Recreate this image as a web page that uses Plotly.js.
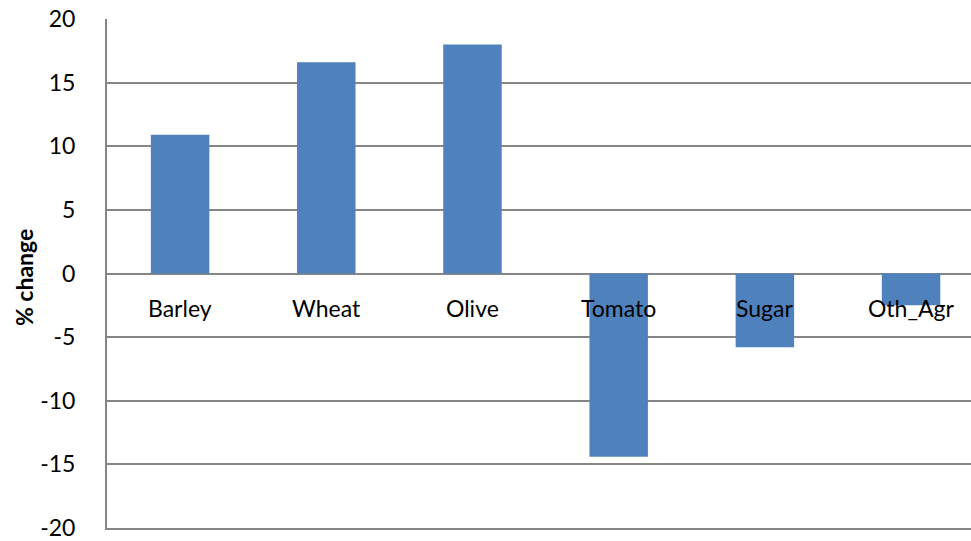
<!DOCTYPE html>
<html>
<head>
<meta charset="utf-8">
<script src="https://cdn.plot.ly/plotly-3.0.1.min.js"></script>
<style>
  html, body { margin: 0; padding: 0; background: #ffffff; overflow: hidden; }
  #chart { width: 971px; height: 541px; }
</style>
</head>
<body>
<div id="chart"></div>
<script>
// Percentage change by agricultural sector
const sectors = ["Barley", "Wheat", "Olive", "Tomato", "Sugar", "Oth_Agr"];
const pctChange = [10.9, 16.6, 18.0, -14.4, -5.8, -2.5];

const yTickVals = [20, 15, 10, 5, 0, -5, -10, -15, -20];
const yTickText = ["20", "15", "10", "5", "0", "-5", "-10", "-15", "-20"];

const axisGrey = "#868686";
const barBlue = "#4F81BD";
const font = "Lato, 'Open Sans', sans-serif";

const trace = {
  type: "bar",
  x: sectors,
  y: pctChange,
  width: 0.4,
  marker: { color: barBlue, line: { width: 0 } },
  hoverinfo: "x+y"
};

// Category names sit just under the zero line rather than at the axis bottom
const sectorLabels = sectors.map(s => ({
  x: s, y: 0, xref: "x", yref: "y",
  text: s, showarrow: false,
  xanchor: "center", yanchor: "middle", yshift: -34,
  font: { family: font, size: 23, color: "#000000" }
}));

const layout = {
  width: 971,
  height: 541,
  margin: { l: 107, r: 0, t: 19, b: 13, pad: 0 },
  paper_bgcolor: "#ffffff",
  plot_bgcolor: "#ffffff",
  showlegend: false,
  font: { family: font, size: 23, color: "#000000" },
  xaxis: {
    type: "category",
    range: [-0.5, 5.41],
    showgrid: false,
    showticklabels: false,
    ticks: "",
    showline: true,
    linecolor: axisGrey,
    linewidth: 2,
    zeroline: false,
    fixedrange: true
  },
  yaxis: {
    range: [-20, 20],
    tickmode: "array",
    tickvals: yTickVals,
    ticktext: yTickText,
    ticks: "",
    ticklabelstandoff: 25,
    ticklabeloverflow: "allow",
    tickfont: { family: font, size: 23, color: "#000000" },
    showgrid: true,
    gridcolor: axisGrey,
    gridwidth: 2,
    zeroline: true,
    zerolinecolor: axisGrey,
    zerolinewidth: 2,
    showline: true,
    linecolor: axisGrey,
    linewidth: 2,
    fixedrange: true
  },
  annotations: sectorLabels.concat([{
    xref: "paper", yref: "paper",
    x: -83 / 864, y: 0.491,
    xanchor: "center", yanchor: "middle",
    text: "<b>% change</b>", textangle: -90, showarrow: false,
    font: { family: font, size: 23, color: "#000000" }
  }])
};

Plotly.newPlot("chart", [trace], layout, { displayModeBar: false, staticPlot: true });
</script>
</body>
</html>
